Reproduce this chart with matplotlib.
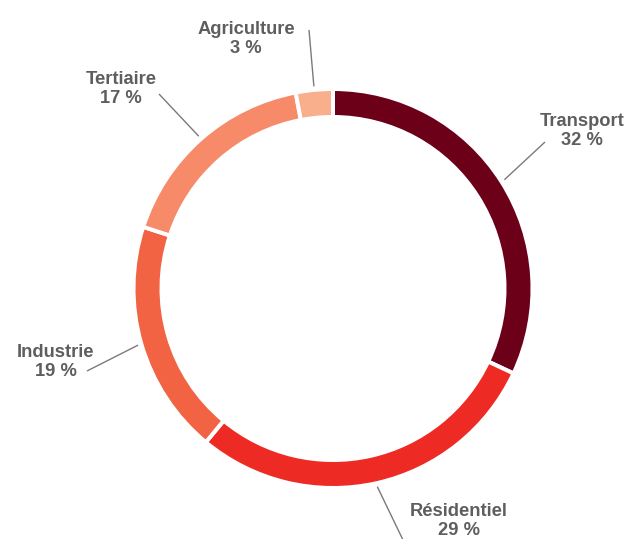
import numpy as np
import matplotlib
matplotlib.use("Agg")
import matplotlib.pyplot as plt

# Shares of emissions by sector (percent)
sectors = ["Transport", "Résidentiel", "Industrie", "Tertiaire", "Agriculture"]
shares = [32, 29, 19, 17, 3]
colors = ["#6c0019", "#ee2a24", "#f26343", "#f68a69", "#f9ae8c"]

W, H = 624, 539
fig = plt.figure(figsize=(W / 100, H / 100), dpi=100)
ax = fig.add_axes([0, 0, 1, 1])

cx, cy = 333, H - 288.5
gap = 4.0  # white separator width in pixels
radius = 197.5 + gap / 2
ring = 24 + gap

wedges, _ = ax.pie(
    shares,
    colors=colors,
    startangle=90,
    counterclock=False,
    center=(cx, cy),
    radius=radius,
    frame=True,
    wedgeprops=dict(width=ring, edgecolor="white", linewidth=gap * 0.72),
)
ax.set_xlim(0, W)
ax.set_ylim(0, H)
ax.set_aspect("equal")
ax.axis("off")

# label layout in pixel coords from the top-left: text centre and connector end
label_pos = {
    "Transport": (582, 131),
    "Résidentiel": (459, 521),
    "Industrie": (56, 362),
    "Tertiaire": (121, 89),
    "Agriculture": (246, 39),
}
connector_end = {
    "Transport": (545, 142),
    "Résidentiel": (403, 540),
    "Industrie": (87, 371),
    "Tertiaire": (159, 94),
    "Agriculture": (309, 30),
}
r_in = 203

for w, name, val in zip(wedges, sectors, shares):
    mid = np.deg2rad((w.theta1 + w.theta2) / 2)
    x0, y0 = cx + r_in * np.cos(mid), cy + r_in * np.sin(mid)
    ex, ey = connector_end[name]
    ax.plot([x0, ex], [y0, H - ey], color="#7a7a7a", lw=1.0,
            solid_capstyle="butt", clip_on=False)
    tx, ty = label_pos[name]
    ax.text(tx, H - ty, f"{name}\n{val} %", ha="center", va="center",
            fontsize=13.2, fontweight="bold", color="#5e5e5e",
            family=["Liberation Sans", "DejaVu Sans"], linespacing=1.2)

fig.savefig("out.png", dpi=100, facecolor="white")
